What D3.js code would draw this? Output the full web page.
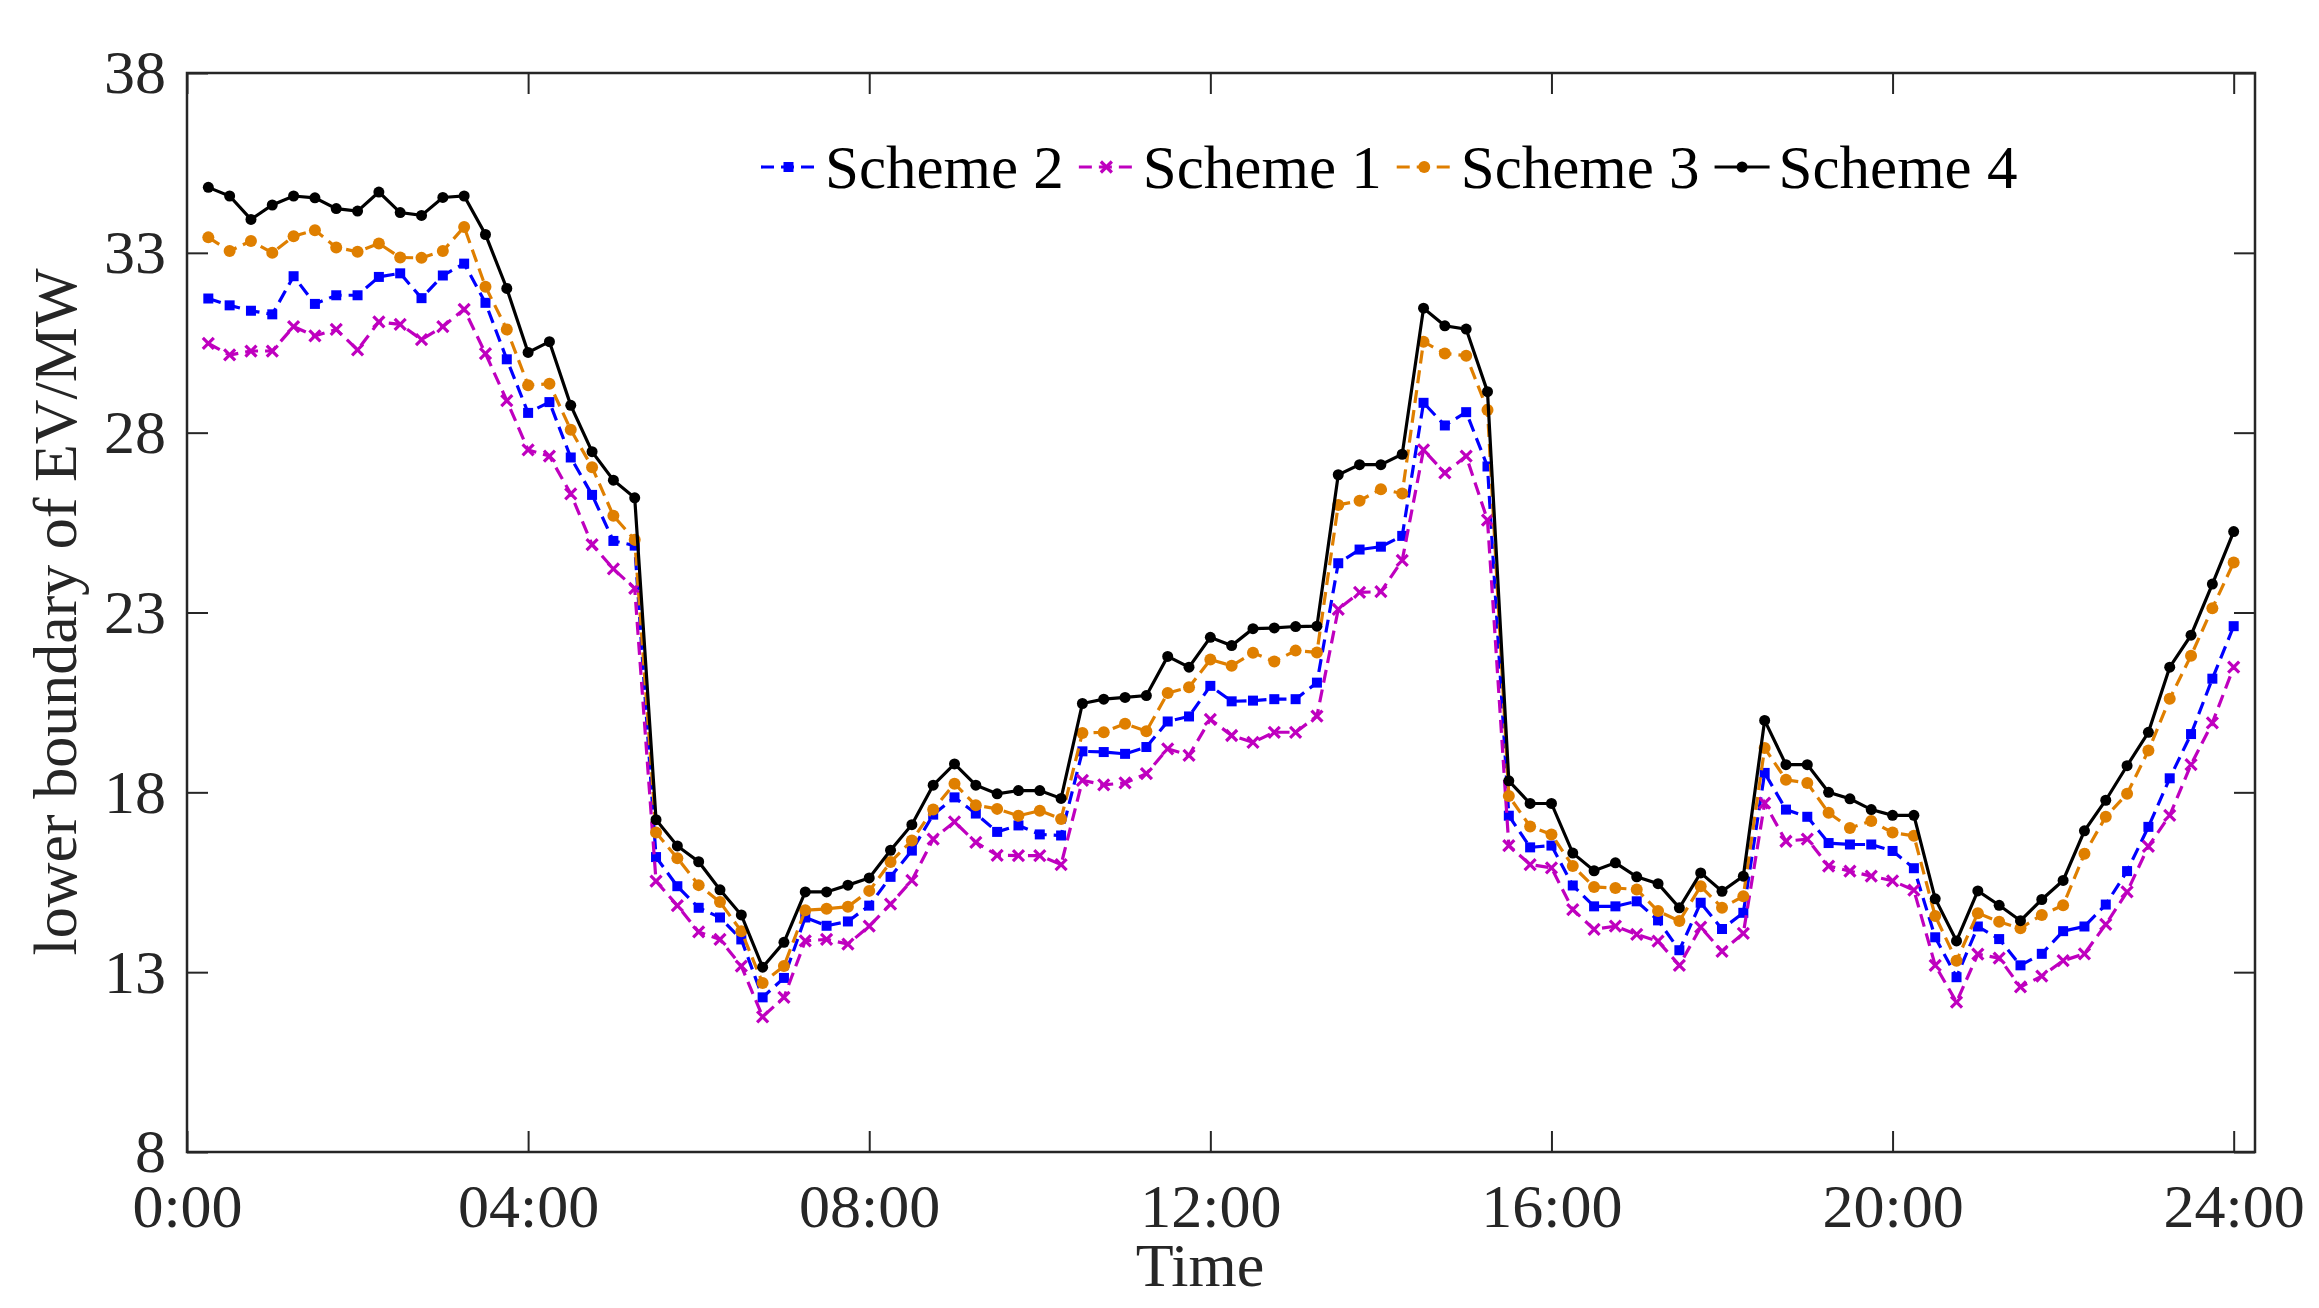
<!DOCTYPE html>
<meta charset="utf-8">
<style>
	body {
	  margin: 0;
	  background: #fff;
	}
	svg text {
	  font-family: "Liberation Serif", "Times New Roman", serif;
	}
</style>
<body>
<script src="https://d3js.org/d3.v7.min.js"></script>
<script>

	// quarter-hour slots 1..96 (0:15 .. 24:00)
	var tickHours = [0, 4, 8, 12, 16, 20, 24];
	var tickLabels = ["0:00", "04:00", "08:00", "12:00", "16:00", "20:00", "24:00"];
	var yTicks = [8, 13, 18, 23, 28, 33, 38];

	var scheme1 = [30.48,30.16,30.27,30.27,30.95,30.69,30.87,30.30,31.08,31.01,30.59,30.95,31.43,30.20,28.89,27.52,
		27.35,26.30,24.89,24.21,23.67,15.53,14.85,14.12,13.91,13.17,11.76,12.30,13.87,13.91,13.78,14.28,
		14.89,15.55,16.70,17.18,16.61,16.25,16.24,16.24,15.99,18.33,18.21,18.26,18.52,19.21,19.03,20.03,
		19.58,19.39,19.67,19.67,20.12,23.09,23.56,23.58,24.45,27.52,26.88,27.35,25.57,16.52,15.99,15.90,
		14.74,14.19,14.28,14.05,13.86,13.19,14.25,13.58,14.08,17.70,16.64,16.70,15.95,15.81,15.67,15.54,
		15.28,13.19,12.17,13.50,13.39,12.59,12.89,13.32,13.51,14.33,15.23,16.50,17.36,18.77,19.93,21.48];

	var scheme2 = [31.73,31.54,31.39,31.29,32.35,31.58,31.82,31.82,32.33,32.43,31.74,32.37,32.70,31.61,30.04,28.55,
		28.85,27.31,26.27,24.99,24.86,16.20,15.39,14.79,14.52,13.91,12.30,12.84,14.52,14.29,14.41,14.85,
		15.65,16.38,17.38,17.86,17.41,16.90,17.08,16.83,16.80,19.14,19.12,19.07,19.26,19.97,20.11,20.96,
		20.53,20.55,20.59,20.59,21.05,24.37,24.75,24.83,25.13,28.83,28.20,28.57,27.06,17.35,16.47,16.52,
		15.41,14.83,14.83,14.97,14.44,13.61,14.93,14.20,14.65,18.54,17.52,17.32,16.59,16.55,16.55,16.37,
		15.89,13.97,12.86,14.27,13.92,13.19,13.51,14.14,14.27,14.88,15.81,17.04,18.39,19.62,21.16,22.62];

	var scheme3 = [33.43,33.05,33.33,33.00,33.46,33.63,33.15,33.03,33.26,32.87,32.86,33.05,33.72,32.06,30.87,29.32,
		29.36,28.08,27.04,25.69,25.02,16.88,16.17,15.42,14.95,14.14,12.70,13.17,14.72,14.76,14.82,15.26,
		16.06,16.66,17.52,18.24,17.64,17.54,17.35,17.49,17.26,19.65,19.67,19.91,19.70,20.76,20.92,21.69,
		21.52,21.88,21.64,21.94,21.89,25.99,26.11,26.43,26.31,30.53,30.20,30.14,28.63,17.90,17.05,16.83,
		15.95,15.37,15.34,15.30,14.70,14.42,15.39,14.79,15.11,19.23,18.35,18.26,17.43,17.01,17.20,16.88,
		16.79,14.56,13.32,14.64,14.40,14.22,14.59,14.86,16.29,17.32,17.96,19.16,20.60,21.80,23.12,24.39];

	var scheme4 = [34.82,34.58,33.93,34.33,34.58,34.53,34.23,34.16,34.69,34.12,34.04,34.54,34.58,33.51,32.01,30.23,
		30.53,28.76,27.47,26.68,26.19,17.24,16.51,16.07,15.29,14.59,13.14,13.83,15.23,15.23,15.42,15.62,
		16.39,17.10,18.20,18.79,18.20,17.96,18.05,18.05,17.83,20.47,20.59,20.64,20.69,21.78,21.48,22.31,
		22.08,22.55,22.57,22.61,22.62,26.83,27.11,27.11,27.40,31.46,30.97,30.88,29.14,18.32,17.69,17.69,
		16.31,15.82,16.04,15.65,15.46,14.79,15.76,15.25,15.67,20.00,18.77,18.77,18.00,17.82,17.52,17.36,
		17.36,15.04,13.87,15.26,14.86,14.43,15.02,15.55,16.93,17.78,18.74,19.67,21.48,22.37,23.79,25.25];

	// plotting order = legend order
	var series = [
		{name: "Scheme 2", values: scheme2, color: "#0000ff", dash: "13,7", marker: "square"},
		{name: "Scheme 1", values: scheme1, color: "#bf00bf", dash: "13,7", marker: "cross"},
		{name: "Scheme 3", values: scheme3, color: "#df7f00", dash: "13,7", marker: "circle"},
		{name: "Scheme 4", values: scheme4, color: "#000000", dash: null, marker: "dot"}
	];

	var margin = {top: 73, right: 64, bottom: 156, left: 187},
		width = 2319 - margin.left - margin.right,
		height = 1308 - margin.top - margin.bottom;

	var svg = d3.select("body").append("svg")
		.attr("width", 2319)
		.attr("height", 1308);

	var g = svg.append("g")
		.attr("transform", "translate(" + margin.left + "," + margin.top + ")");

	var x = d3.scaleLinear()
		.domain([0, 24.25])
		.range([0, width]);

	var y = d3.scaleLinear()
		.domain([8, 38])
		.range([height, 0]);

	var axisColor = "#262626";

	function styleAxis(sel) {
		sel.select(".domain").remove();
		sel.selectAll(".tick line").attr("stroke", axisColor).attr("stroke-width", 2);
		sel.selectAll(".tick text")
			.attr("fill", axisColor)
			.style("font-size", "62px");
	}

	g.append("g")
		.attr("transform", "translate(0," + height + ")")
		.call(d3.axisBottom(x).tickValues(tickHours)
			.tickFormat(function(d, i) { return tickLabels[i]; })
			.tickSizeInner(-21).tickSizeOuter(0).tickPadding(31))
		.call(styleAxis);

	g.append("g")
		.call(d3.axisTop(x).tickValues(tickHours).tickFormat("")
			.tickSizeInner(-21).tickSizeOuter(0))
		.call(styleAxis);

	g.append("g")
		.call(d3.axisLeft(y).tickValues(yTicks)
			.tickSizeInner(-21).tickSizeOuter(0).tickPadding(21))
		.call(styleAxis);

	g.append("g")
		.attr("transform", "translate(" + width + ",0)")
		.call(d3.axisRight(y).tickValues(yTicks).tickFormat("")
			.tickSizeInner(-21).tickSizeOuter(0))
		.call(styleAxis);

	g.append("rect")
		.attr("width", width)
		.attr("height", height)
		.attr("fill", "none")
		.attr("stroke", axisColor)
		.attr("stroke-width", 2.5);

	var line = d3.line()
		.x(function(d, i) { return x((i + 1) * 0.25); })
		.y(function(d) { return y(d); });

	function drawMarker(sel, s, px, py) {
		if (s.marker == "square") {
			sel.append("rect")
				.attr("x", px - 5).attr("y", py - 5)
				.attr("width", 10).attr("height", 10)
				.attr("fill", s.color);
		} else if (s.marker == "cross") {
			sel.append("path")
				.attr("d", "M" + (px - 5.5) + "," + (py - 5.5) + "L" + (px + 5.5) + "," + (py + 5.5)
					+ "M" + (px - 5.5) + "," + (py + 5.5) + "L" + (px + 5.5) + "," + (py - 5.5))
				.attr("stroke", s.color)
				.attr("stroke-width", 3.2);
		} else {
			sel.append("circle")
				.attr("cx", px).attr("cy", py)
				.attr("r", s.marker == "circle" ? 6 : 5.5)
				.attr("fill", s.color);
		}
	}

	series.forEach(function(s) {
		var sg = g.append("g");
		sg.append("path")
			.attr("d", line(s.values))
			.attr("fill", "none")
			.attr("stroke", s.color)
			.attr("stroke-width", 3.2)
			.attr("stroke-dasharray", s.dash);
		s.values.forEach(function(v, i) {
			drawMarker(sg, s, x((i + 1) * 0.25), y(v));
		});
	});

	// legend, no box
	var legend = svg.append("g");
	var lx = 761, ly = 167;
	series.forEach(function(s) {
		legend.append("line")
			.attr("x1", lx).attr("x2", lx + 55)
			.attr("y1", ly).attr("y2", ly)
			.attr("stroke", s.color)
			.attr("stroke-width", 3.2)
			.attr("stroke-dasharray", s.dash);
		drawMarker(legend, s, lx + 27.5, ly);
		var t = legend.append("text")
			.attr("x", lx + 64)
			.attr("y", 188)
			.style("font-size", "61px")
			.attr("fill", "#000")
			.text(s.name);
		lx = lx + 64 + t.node().getComputedTextLength() + 15;
	});

	svg.append("text")
		.attr("x", 1200)
		.attr("y", 1286)
		.attr("text-anchor", "middle")
		.attr("fill", axisColor)
		.style("font-size", "62px")
		.text("Time");

	svg.append("text")
		.attr("transform", "translate(76,612) rotate(-90)")
		.attr("text-anchor", "middle")
		.attr("fill", axisColor)
		.style("font-size", "62px")
		.text("lower boundary of EV/MW");

</script>
